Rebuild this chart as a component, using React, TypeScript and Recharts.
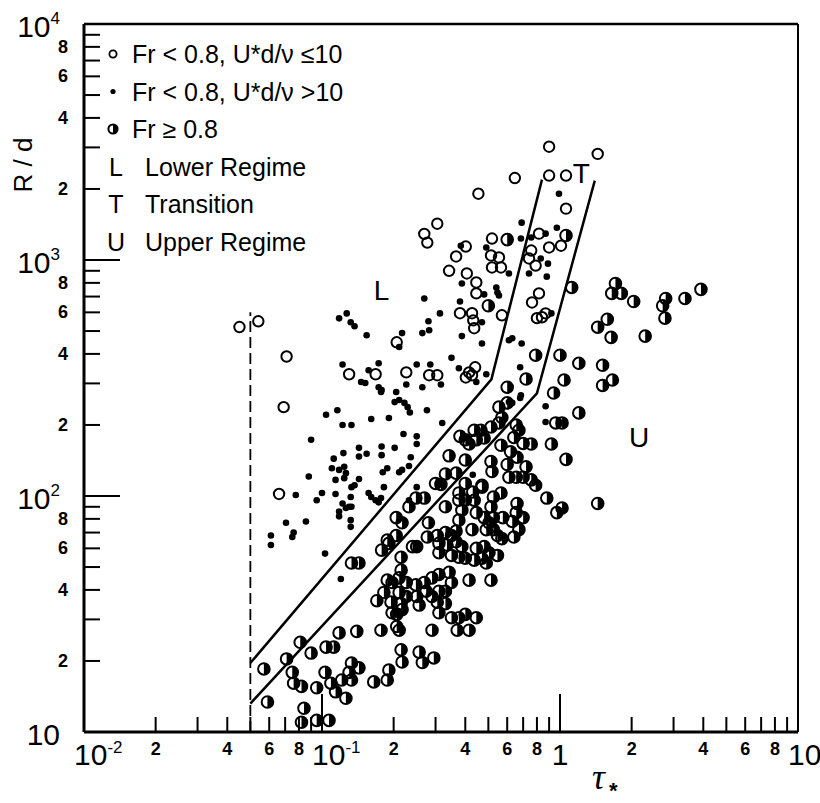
import { ReferenceDot, ReferenceLine, Scatter, ScatterChart, XAxis, YAxis } from "recharts";

// tau* (x) and R/d (y)
const OPEN_PTS = [
  [0.045, 520], [0.054, 550], [0.071, 390], [0.069, 238], [0.066, 102],
  [0.13, 328], [0.168, 328], [0.226, 334], [0.282, 325], [0.305, 325], [0.206, 448],
  [0.305, 1425], [0.269, 1290], [0.277, 1185], [0.342, 900], [0.366, 1035], [0.406, 877], [0.402, 1140],
  [0.445, 803], [0.445, 722], [0.38, 595], [0.427, 595], [0.432, 555], [0.436, 514], [0.57, 583],
  [0.44, 351], [0.415, 334], [0.402, 318], [0.427, 325],
  [0.816, 722], [0.763, 661], [0.8, 567], [0.84, 572], [0.87, 594],
  [0.513, 1045], [0.554, 1025], [0.518, 930], [0.565, 930], [0.741, 1015], [0.79, 947],
  [0.9, 3020], [1.44, 2815], [0.646, 2225], [0.9, 2280], [1.06, 2280], [0.454, 1910], [1.06, 1650],
  [0.518, 1233], [0.816, 1293], [0.9, 1130], [1.01, 1150], [0.757, 1097],
];

const DOT_PTS = [
  [0.383, 1150], [0.387, 795], [0.38, 667], [0.269, 687], [0.313, 594], [0.28, 550], [0.282, 504], [0.264, 490],
  [0.118, 566], [0.127, 594], [0.132, 545], [0.137, 524], [0.154, 480], [0.211, 428], [0.217, 490],
  [0.387, 476], [0.47, 443], [0.35, 385], [0.376, 348], [0.25, 361], [0.285, 361], [0.316, 297], [0.264, 289],
  [0.445, 304], [0.49, 328], [0.54, 765], [0.554, 707], [0.546, 728], [0.61, 877], [0.61, 457], [0.63, 466], [0.69, 443],
  [0.99, 1910], [0.69, 1440], [0.97, 1370], [0.685, 1233], [0.757, 1245], [0.87, 1293], [0.49, 1130],
  [0.83, 1015], [0.89, 965], [0.741, 877], [0.88, 850], [0.48, 715], [0.47, 545], [0.92, 594],
  [0.68, 351], [0.685, 267], [0.68, 260], [0.61, 250], [0.63, 248], [0.87, 240], [0.87, 206],
  [0.122, 361], [0.157, 341], [0.173, 365], [0.146, 304], [0.152, 301], [0.173, 289], [0.178, 281], [0.177, 276],
  [0.205, 276], [0.226, 297], [0.202, 250], [0.211, 255], [0.222, 248], [0.229, 238], [0.234, 226], [0.276, 231], [0.32, 204],
  [0.104, 221], [0.116, 231], [0.122, 200], [0.133, 200], [0.161, 212], [0.191, 214], [0.09, 173], [0.112, 144], [0.123, 152],
  [0.143, 160], [0.154, 151], [0.178, 162], [0.178, 149], [0.202, 160], [0.22, 183], [0.25, 179], [0.25, 166], [0.236, 146], [0.143, 147],
  [0.11, 131], [0.118, 129], [0.124, 133], [0.126, 125], [0.124, 119], [0.114, 117], [0.088, 121], [0.143, 118],
  [0.18, 126], [0.188, 131], [0.211, 126], [0.217, 129], [0.232, 134], [0.133, 109], [0.137, 111], [0.182, 109],
  [0.157, 103], [0.161, 99], [0.168, 96], [0.173, 94], [0.177, 98], [0.114, 102], [0.132, 99], [0.1, 103], [0.095, 96], [0.0776, 101],
  [0.122, 93], [0.126, 89], [0.13, 90], [0.133, 90], [0.118, 86], [0.132, 79], [0.132, 74], [0.118, 82], [0.0856, 78], [0.0706, 77],
  [0.076, 70], [0.075, 67], [0.061, 68], [0.061, 62], [0.103, 57], [0.12, 44.5], [0.25, 109], [0.232, 96], [0.43, 123],
];

const HALF_PTS = [
  [0.6, 1220], [1.06, 1270], [1.12, 765], [0.5, 640], [1.71, 795], [1.65, 722], [1.81, 722], [2.04, 667], [2.78, 687], [2.7, 640],
  [3.35, 687], [3.91, 751], [2.76, 567], [1.58, 561], [1.44, 519], [1.64, 470], [2.28, 476],
  [0.79, 395], [1.0, 395], [1.2, 365], [1.51, 358], [0.72, 313], [1.04, 310], [1.51, 294], [1.66, 310], [0.6, 289], [0.94, 273],
  [1.2, 225], [0.554, 238], [0.57, 215], [0.655, 200], [0.672, 190], [0.96, 204], [1.02, 204],
  [0.465, 190], [0.513, 196], [0.445, 173], [0.48, 176], [0.64, 177], [0.7, 167], [0.757, 166], [0.565, 164], [0.92, 166], [1.06, 143],
  [0.513, 140], [0.518, 127], [0.6, 136], [0.66, 146], [0.72, 133], [0.7, 120], [0.61, 120], [0.655, 120], [0.757, 117], [0.79, 111],
  [0.47, 111], [0.88, 98], [0.97, 85], [1.02, 89], [1.44, 93], [0.565, 103], [0.525, 99], [0.66, 93], [0.655, 85], [0.7, 81],
  [0.445, 85], [0.48, 81], [0.525, 81],
  [0.38, 179], [0.4, 173], [0.342, 148], [0.4, 142], [0.33, 124], [0.366, 125], [0.3, 113], [0.316, 112], [0.248, 98], [0.269, 98],
  [0.232, 90], [0.205, 81], [0.217, 77], [0.28, 77], [0.376, 96], [0.387, 87], [0.376, 79],
  [0.4, 113], [0.43, 104], [0.376, 103], [0.4, 96], [0.436, 96], [0.47, 109], [0.513, 90], [0.503, 77], [0.33, 90],
  [0.575, 81], [0.63, 78], [0.672, 72], [0.64, 67], [0.57, 66], [0.49, 72], [0.546, 68], [0.525, 72],
  [0.188, 65], [0.205, 68], [0.178, 59], [0.191, 63],
  [0.24, 61], [0.25, 61], [0.277, 67], [0.305, 68], [0.33, 70], [0.35, 68], [0.366, 71],
  [0.31, 63], [0.335, 62], [0.366, 64], [0.387, 61],
  [0.31, 57.5], [0.35, 56], [0.376, 55], [0.4, 54.5], [0.436, 53.5], [0.47, 54.5], [0.503, 57.5], [0.546, 56],
  [0.445, 60], [0.48, 61], [0.49, 52], [0.427, 72],
  [0.215, 55], [0.215, 48.5], [0.188, 44], [0.197, 43], [0.211, 45], [0.226, 43], [0.17, 36], [0.182, 39],
  [0.195, 35.5], [0.211, 39], [0.215, 35], [0.226, 37.5], [0.197, 32], [0.206, 31.5], [0.217, 33], [0.206, 28],
  [0.248, 42], [0.269, 43], [0.29, 45], [0.31, 46.5], [0.342, 47.5], [0.35, 43], [0.33, 39.5], [0.31, 39.5], [0.29, 37.5],
  [0.274, 39.5], [0.25, 37.5], [0.256, 34.5],
  [0.305, 35.5], [0.33, 35], [0.31, 32], [0.415, 44], [0.513, 44],
  [0.35, 30.5], [0.376, 30.5], [0.4, 31.5], [0.445, 30.5], [0.37, 27], [0.415, 27], [0.29, 27], [0.177, 27], [0.211, 27], [0.14, 26.7],
  [0.215, 22.3], [0.217, 19.8], [0.256, 21.8], [0.264, 19.7], [0.295, 20.6], [0.133, 52], [0.143, 52],
  [0.057, 18.5], [0.059, 13.4], [0.071, 20.4], [0.075, 17.9], [0.076, 16.1], [0.082, 15.6], [0.081, 24], [0.09, 21.6],
  [0.095, 15.4], [0.103, 17.9], [0.104, 22.9], [0.112, 22.9], [0.118, 26.3],
  [0.109, 16.1], [0.114, 14.8], [0.126, 13.9], [0.121, 16.6], [0.13, 17.9], [0.133, 19.6], [0.143, 18.7], [0.133, 16.6],
  [0.165, 16.3], [0.188, 16.6], [0.191, 18.3],
  [0.084, 12.6], [0.082, 11.0], [0.095, 11.2], [0.107, 11.2],
  [0.436, 190], [0.415, 166], [0.554, 204], [0.62, 154], [0.6, 248],
];

// regime boundaries
const LINE_LT = [[0.05, 19.6], [0.515, 312], [0.84, 2190]];
const LINE_TU = [[0.05, 13.2], [0.8, 272], [1.4, 2170]];
const DASH_X = 0.05;
const DASH_TOP = 600;

const X_TICKS = [
  0.01, 0.02, 0.03, 0.04, 0.05, 0.06, 0.07, 0.08, 0.09,
  0.1, 0.2, 0.3, 0.4, 0.5, 0.6, 0.7, 0.8, 0.9,
  1, 2, 3, 4, 5, 6, 7, 8, 9, 10,
];
const Y_TICKS = [
  10, 20, 30, 40, 50, 60, 70, 80, 90,
  100, 200, 300, 400, 500, 600, 700, 800, 900,
  1000, 2000, 3000, 4000, 5000, 6000, 7000, 8000, 9000, 10000,
];
const MINOR_LABELS = [2, 4, 6, 8];
const X_MAJOR = [
  { v: 0.01, base: "10", exp: "-2" },
  { v: 0.1, base: "10", exp: "-1" },
  { v: 1, base: "1", exp: "" },
  { v: 10, base: "10", exp: "" },
];
const Y_MAJOR = [
  { v: 10, base: "10", exp: "" },
  { v: 100, base: "10", exp: "2" },
  { v: 1000, base: "10", exp: "3" },
  { v: 10000, base: "10", exp: "4" },
];

const LEGEND = [
  { mark: "open", text: "Fr < 0.8, U*d/ν ≤10" },
  { mark: "dot", text: "Fr < 0.8, U*d/ν >10" },
  { mark: "half", text: "Fr ≥ 0.8" },
  { mark: "L", text: "Lower  Regime" },
  { mark: "T", text: "Transition" },
  { mark: "U", text: "Upper  Regime" },
];
const REGIME_LABELS = [
  { x: 0.178, y: 743, text: "L" },
  { x: 1.23, y: 2345, text: "T" },
  { x: 2.15, y: 177, text: "U" },
];

const FONT = "'Liberation Sans', Arial, sans-serif";
const pts = (a: number[][]) => a.map(([x, y]) => ({ x, y }));
const mantissa = (v: number) => Math.round(v / Math.pow(10, Math.floor(Math.log10(v) + 1e-9)));
const same = (a: number, b: number) => Math.abs(a - b) < b * 1e-6;

const OpenMark = ({ cx, cy }: any) => (
  <circle cx={cx} cy={cy} r={5.2} fill="none" stroke="#000" strokeWidth={2} />
);
const DotMark = ({ cx, cy }: any) => <circle cx={cx} cy={cy} r={3.3} fill="#000" />;
const HalfMark = ({ cx, cy, r = 5.8 }: any) => (
  <g>
    <circle cx={cx} cy={cy} r={r} fill="none" stroke="#000" strokeWidth={2} />
    <path d={`M${cx},${cy - r}A${r},${r} 0 0 1 ${cx},${cy + r}Z`} fill="#000" />
  </g>
);
const NoMark = () => <g />;

function XTick({ x, y, payload }: any) {
  const v = payload.value;
  const major = X_MAJOR.find((d) => same(v, d.v));
  const edge = same(v, 0.01) || same(v, 10);
  const len = major ? 38 : 15;
  const m = mantissa(v);
  return (
    <g>
      {!edge && <line x1={x} y1={y} x2={x} y2={y - len} stroke="#000" strokeWidth={2} />}
      {major ? (
        <text
          x={major.base === "1" ? x : x - 10}
          y={y + 33}
          textAnchor={major.base === "1" ? "middle" : "start"}
          fontSize={30}
          fontFamily={FONT}
        >
          {major.base}
          {major.exp && <tspan fontSize={17} dy={-12}>{major.exp}</tspan>}
        </text>
      ) : MINOR_LABELS.includes(m) ? (
        <text x={x} y={y + 23} textAnchor="middle" fontSize={18} fontWeight="bold" fontFamily={FONT}>
          {m}
        </text>
      ) : null}
    </g>
  );
}

function YTick({ x, y, payload }: any) {
  const v = payload.value;
  const major = Y_MAJOR.find((d) => same(v, d.v));
  const edge = same(v, 10) || same(v, 10000);
  const len = major ? 36 : 16;
  const m = mantissa(v);
  return (
    <g>
      {!edge && <line x1={x} y1={y} x2={x + len} y2={y} stroke="#000" strokeWidth={2} />}
      {major ? (
        <text x={x - 24} y={y + 13} textAnchor="end" fontSize={30} fontFamily={FONT}>
          {major.base}
          {major.exp && <tspan fontSize={17} dy={-13}>{major.exp}</tspan>}
        </text>
      ) : MINOR_LABELS.includes(m) ? (
        <text x={x - 16} y={y + 6} textAnchor="end" fontSize={18} fontWeight="bold" fontFamily={FONT}>
          {m}
        </text>
      ) : null}
    </g>
  );
}

function LegendMark({ mark, cx, cy }: any) {
  if (mark === "open") return <circle cx={cx} cy={cy} r={3.6} fill="none" stroke="#000" strokeWidth={1.8} />;
  if (mark === "dot") return <circle cx={cx} cy={cy} r={2.6} fill="#000" />;
  if (mark === "half") return <HalfMark cx={cx} cy={cy} r={4.6} />;
  return (
    <text x={cx + 3} y={cy + 9} textAnchor="middle" fontSize={25} fontFamily={FONT}>
      {mark}
    </text>
  );
}

export default function App() {
  return (
    <div style={{ position: "absolute", left: 0, top: 0, width: 820, height: 803, background: "#fff" }}>
      <ScatterChart width={820} height={803} margin={{ top: 24, right: 22, bottom: 0, left: 0 }}>
        <XAxis
          type="number" dataKey="x" scale="log" domain={[0.01, 10]} allowDataOverflow
          ticks={X_TICKS} interval={0} tick={<XTick />} tickLine={false} tickSize={0} tickMargin={0}
          axisLine={{ stroke: "#000", strokeWidth: 3 }} height={71}
        />
        <YAxis
          type="number" dataKey="y" scale="log" domain={[10, 10000]} allowDataOverflow
          ticks={Y_TICKS} interval={0} tick={<YTick />} tickLine={false} tickSize={0} tickMargin={0}
          axisLine={{ stroke: "#000", strokeWidth: 3 }} width={84}
        />
        <ReferenceLine y={10000} stroke="#000" strokeWidth={2.5} />
        <ReferenceLine x={10} stroke="#000" strokeWidth={2} />
        <ReferenceLine
          segment={[{ x: DASH_X, y: 10 }, { x: DASH_X, y: DASH_TOP }]}
          stroke="#000" strokeWidth={1.8} strokeDasharray="11 5"
        />
        <Scatter data={pts(LINE_LT)} line={{ stroke: "#000", strokeWidth: 2.5 }} shape={NoMark} isAnimationActive={false} />
        <Scatter data={pts(LINE_TU)} line={{ stroke: "#000", strokeWidth: 2.5 }} shape={NoMark} isAnimationActive={false} />
        <Scatter data={pts(HALF_PTS)} shape={HalfMark} isAnimationActive={false} />
        <Scatter data={pts(OPEN_PTS)} shape={OpenMark} isAnimationActive={false} />
        <Scatter data={pts(DOT_PTS)} shape={DotMark} isAnimationActive={false} />
        {REGIME_LABELS.map((d) => (
          <ReferenceDot
            key={d.text} x={d.x} y={d.y} r={0} fill="none" stroke="none"
            label={{ value: d.text, position: "center", fontSize: 28, fill: "#000", fontFamily: FONT }}
          />
        ))}
      </ScatterChart>
      <svg width={820} height={803} style={{ position: "absolute", left: 0, top: 0, pointerEvents: "none" }}>
        {LEGEND.map((d, i) => {
          const cy = 54 + i * 37.5;
          return (
            <g key={d.text}>
              <LegendMark mark={d.mark} cx={113} cy={cy} />
              <text x={d.mark.length > 1 ? 132 : 145} y={cy + 9} fontSize={25} fontFamily={FONT}>
                {d.text}
              </text>
            </g>
          );
        })}
        <text transform="translate(32,165) rotate(-90)" textAnchor="middle" fontSize={26} fontFamily={FONT}>
          R / d
        </text>
        <text x={592} y={789} fontSize={36} fontStyle="italic" fontFamily="'Liberation Serif', serif">
          τ
        </text>
        <text x={609} y={798} fontSize={22} fontWeight="bold" fontFamily={FONT}>
          *
        </text>
      </svg>
    </div>
  );
}
